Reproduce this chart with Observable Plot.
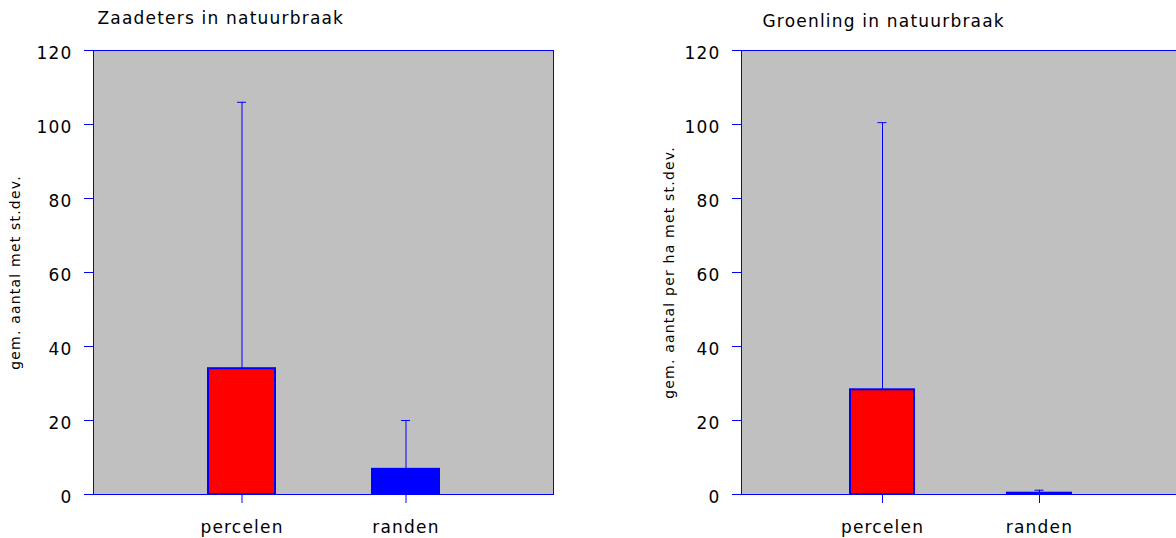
<!DOCTYPE html>
<html>
<head>
<meta charset="utf-8">
<script src="https://cdn.jsdelivr.net/npm/d3@7"></script>
<script src="https://cdn.jsdelivr.net/npm/@observablehq/plot@0.6"></script>
<style>
  html, body { margin: 0; padding: 0; background: #fff; overflow: hidden; }
  #wrap { position: relative; width: 1176px; height: 538px; overflow: hidden; }
  #wrap > div, #wrap > svg { position: absolute; top: 0; }
</style>
</head>
<body>
<div id="wrap"></div>
<script>
// ---- data ----
const categories = ["percelen", "randen"];
const yTicks = [0, 20, 40, 60, 80, 100, 120];

const zaadTitle = "Zaadeters in natuurbraak";
const zaadYLabel = "gem. aantal met st.dev.";
const zaadMean = [34, 6.8];
const zaadSD = [72, 13.2];
const zaadFill = ["#ff0000", "#0000ff"];

const groenTitle = "Groenling in natuurbraak";
const groenYLabel = "gem. aantal per ha met st.dev.";
const groenMean = [28.3, 0.35];
const groenSD = [72.2, 0.8];
const groenFill = ["#ff0000", "#0000ff"];

function panel({title, yLabel, mean, sd, fills, width, marginLeft, marginRight, titleDx, titleDy, labelDx, capInset}) {
  const rows = categories.map((c, i) => ({cat: c, mean: mean[i], hi: mean[i] + sd[i], fill: fills[i]}));
  return Plot.plot({
    width, height: 538,
    marginTop: 50, marginBottom: 44, marginLeft, marginRight,
    style: {fontFamily: "'DejaVu Sans', sans-serif", letterSpacing: "1.2px", background: "transparent", overflow: "visible"},
    x: {type: "band", domain: categories, paddingInner: 0.594, paddingOuter: 0.691, axis: null},
    y: {domain: [0, 120], axis: null},
    marks: [
      Plot.frame({fill: "#c0c0c0", stroke: null}),
      Plot.ruleX(rows, {x: "cat", y1: "mean", y2: "hi", stroke: "#0000ff", strokeWidth: 1}),
      Plot.tickY(rows, {x: "cat", y: "hi", stroke: "#0000ff", strokeWidth: 1, insetLeft: capInset, insetRight: capInset}),
      Plot.barY(rows, {x: "cat", y: "mean", fill: "fill", stroke: "#0000ff", strokeWidth: 2}),
      Plot.frame({stroke: "#0000ff", strokeWidth: 1}),
      Plot.axisY({ticks: yTicks, tickSize: 9, stroke: "#0000ff", fill: "none", tickFormat: () => "", label: null}),
      Plot.axisY({ticks: yTicks, tickSize: 0, tickPadding: 21, fill: "#000", fontSize: 17, dy: 3, label: null}),
      Plot.axisX({tickSize: 9, tickPadding: 17, stroke: "#0000ff", fill: "#000", fontSize: 17, label: null}),
      Plot.text([title], {frameAnchor: "top-left", dx: titleDx, dy: titleDy, lineAnchor: "bottom", textAnchor: "start", fontSize: 17, fill: "#000"}),
      Plot.text([yLabel], {frameAnchor: "left", rotate: -90, dx: labelDx, lineAnchor: "bottom", textAnchor: "middle", fontSize: 14, fill: "#000"})
    ]
  });
}

const wrap = document.getElementById("wrap");
const left = panel({title: zaadTitle, yLabel: zaadYLabel, mean: zaadMean, sd: zaadSD, fills: zaadFill,
  width: 588, marginLeft: 93, marginRight: 35, titleDx: 4, titleDy: -26.7, labelDx: -73.4, capInset: 29});
left.style.left = "0px";
wrap.appendChild(left);

const right = panel({title: groenTitle, yLabel: groenYLabel, mean: groenMean, sd: groenSD, fills: groenFill,
  width: 600, marginLeft: 153, marginRight: 8, titleDx: 21, titleDy: -24, labelDx: -68, capInset: 27.5});
right.style.left = "588px";
wrap.appendChild(right);
</script>
</body>
</html>
